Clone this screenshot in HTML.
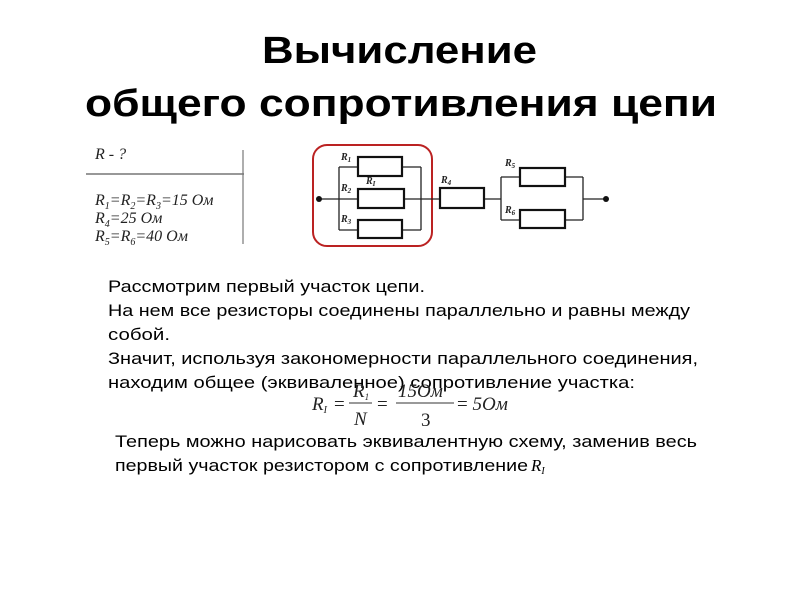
<!DOCTYPE html>
<html><head><meta charset="utf-8"><style>
body{margin:0;background:#fff}
svg{display:block}
.t{font-family:"Liberation Sans",sans-serif;fill:#000}
.s{font-family:"Liberation Serif",serif;font-style:italic;fill:#222}
</style></head><body>
<svg width="800" height="600" viewBox="0 0 800 600" xmlns="http://www.w3.org/2000/svg">
<text class="t" x="262" y="63" font-size="38" font-weight="bold" textLength="275" lengthAdjust="spacingAndGlyphs">Вычисление</text>
<text class="t" x="85" y="116" font-size="38" font-weight="bold" textLength="632" lengthAdjust="spacingAndGlyphs">общего сопротивления цепи</text>

<!-- givens -->
<g class="s" font-size="16">
<text x="95" y="159">R - ?</text>
<text x="95" y="205">R<tspan font-size="10" dy="4">1</tspan><tspan dy="-4">=R</tspan><tspan font-size="10" dy="4">2</tspan><tspan dy="-4">=R</tspan><tspan font-size="10" dy="4">3</tspan><tspan dy="-4">=15 Ом</tspan></text>
<text x="95" y="223">R<tspan font-size="10" dy="4">4</tspan><tspan dy="-4">=25 Ом</tspan></text>
<text x="95" y="241">R<tspan font-size="10" dy="4">5</tspan><tspan dy="-4">=R</tspan><tspan font-size="10" dy="4">6</tspan><tspan dy="-4">=40 Ом</tspan></text>
</g>
<line x1="86" y1="174" x2="244" y2="174" stroke="#777" stroke-width="1.5"/>
<line x1="243" y1="150" x2="243" y2="244" stroke="#777" stroke-width="1.2"/>

<!-- circuit -->
<rect x="313" y="145" width="119" height="101" rx="14" fill="none" stroke="#b22" stroke-width="2"/>
<g fill="none" stroke="#222" stroke-width="1.3">
<path d="M318 199 H440 M484 199 H501 M501 177 V220 M501 177 H520 M501 220 H520 M565 177 H583 M565 220 H583 M583 177 V220 M583 199 H608"/>
<path d="M339 167 V230 M339 167 H358 M339 230 H358 M402 167 H421 M402 230 H421 M421 167 V230"/>
</g>
<g fill="#fff" stroke="#111" stroke-width="2.2">
<rect x="358" y="157" width="44" height="19"/>
<rect x="358" y="189" width="46" height="19"/>
<rect x="358" y="220" width="44" height="18"/>
<rect x="440" y="188" width="44" height="20"/>
<rect x="520" y="168" width="45" height="18"/>
<rect x="520" y="210" width="45" height="18"/>
</g>
<circle cx="319" cy="199" r="3" fill="#111"/>
<circle cx="606" cy="199" r="3" fill="#111"/>
<g class="s" font-size="10" font-weight="bold" fill="#111">
<text x="341" y="160">R<tspan font-size="7" dy="2">1</tspan></text>
<text x="366" y="184">R<tspan font-size="7" dy="2">I</tspan></text>
<text x="341" y="191">R<tspan font-size="7" dy="2">2</tspan></text>
<text x="341" y="222">R<tspan font-size="7" dy="2">3</tspan></text>
<text x="441" y="183">R<tspan font-size="7" dy="2">4</tspan></text>
<text x="505" y="166">R<tspan font-size="7" dy="2">5</tspan></text>
<text x="505" y="213">R<tspan font-size="7" dy="2">6</tspan></text>
</g>

<g class="t" font-size="17">
<text x="108" y="292" textLength="317" lengthAdjust="spacingAndGlyphs">Рассмотрим первый участок цепи.</text>
<text x="108" y="316" textLength="582" lengthAdjust="spacingAndGlyphs">На нем все резисторы соединены параллельно и равны между</text>
<text x="108" y="340" textLength="62" lengthAdjust="spacingAndGlyphs">собой.</text>
<text x="108" y="364" textLength="590" lengthAdjust="spacingAndGlyphs">Значит, используя закономерности параллельного соединения,</text>
<text x="108" y="388" textLength="527" lengthAdjust="spacingAndGlyphs">находим общее (эквиваленное) сопротивление участка:</text>
<text x="115" y="447" textLength="582" lengthAdjust="spacingAndGlyphs">Теперь можно нарисовать эквивалентную схему, заменив весь</text>
<text x="115" y="471" textLength="413" lengthAdjust="spacingAndGlyphs">первый участок резистором с сопротивление</text>
<text x="531" y="471" font-family="Liberation Serif" font-style="italic" font-size="17">R<tspan font-size="10" dy="3">I</tspan></text>
</g>

<!-- formula -->
<g class="s" font-size="19" fill="#333">
<text x="312" y="410">R<tspan font-size="10" dy="3">I</tspan></text>
<text x="334" y="410" font-style="normal">=</text>
<text x="353" y="397">R<tspan font-size="9" dy="3">1</tspan></text>
<text x="354" y="425">N</text>
<text x="377" y="410" font-style="normal">=</text>
<text x="398" y="397">15Ом</text>
<text x="421" y="426" font-style="normal">3</text>
<text x="457" y="410"><tspan font-style="normal">= </tspan>5Ом</text>
</g>
<line x1="349" y1="403" x2="372" y2="403" stroke="#333"/>
<line x1="396" y1="403" x2="454" y2="403" stroke="#333"/>
</svg>
</body></html>
